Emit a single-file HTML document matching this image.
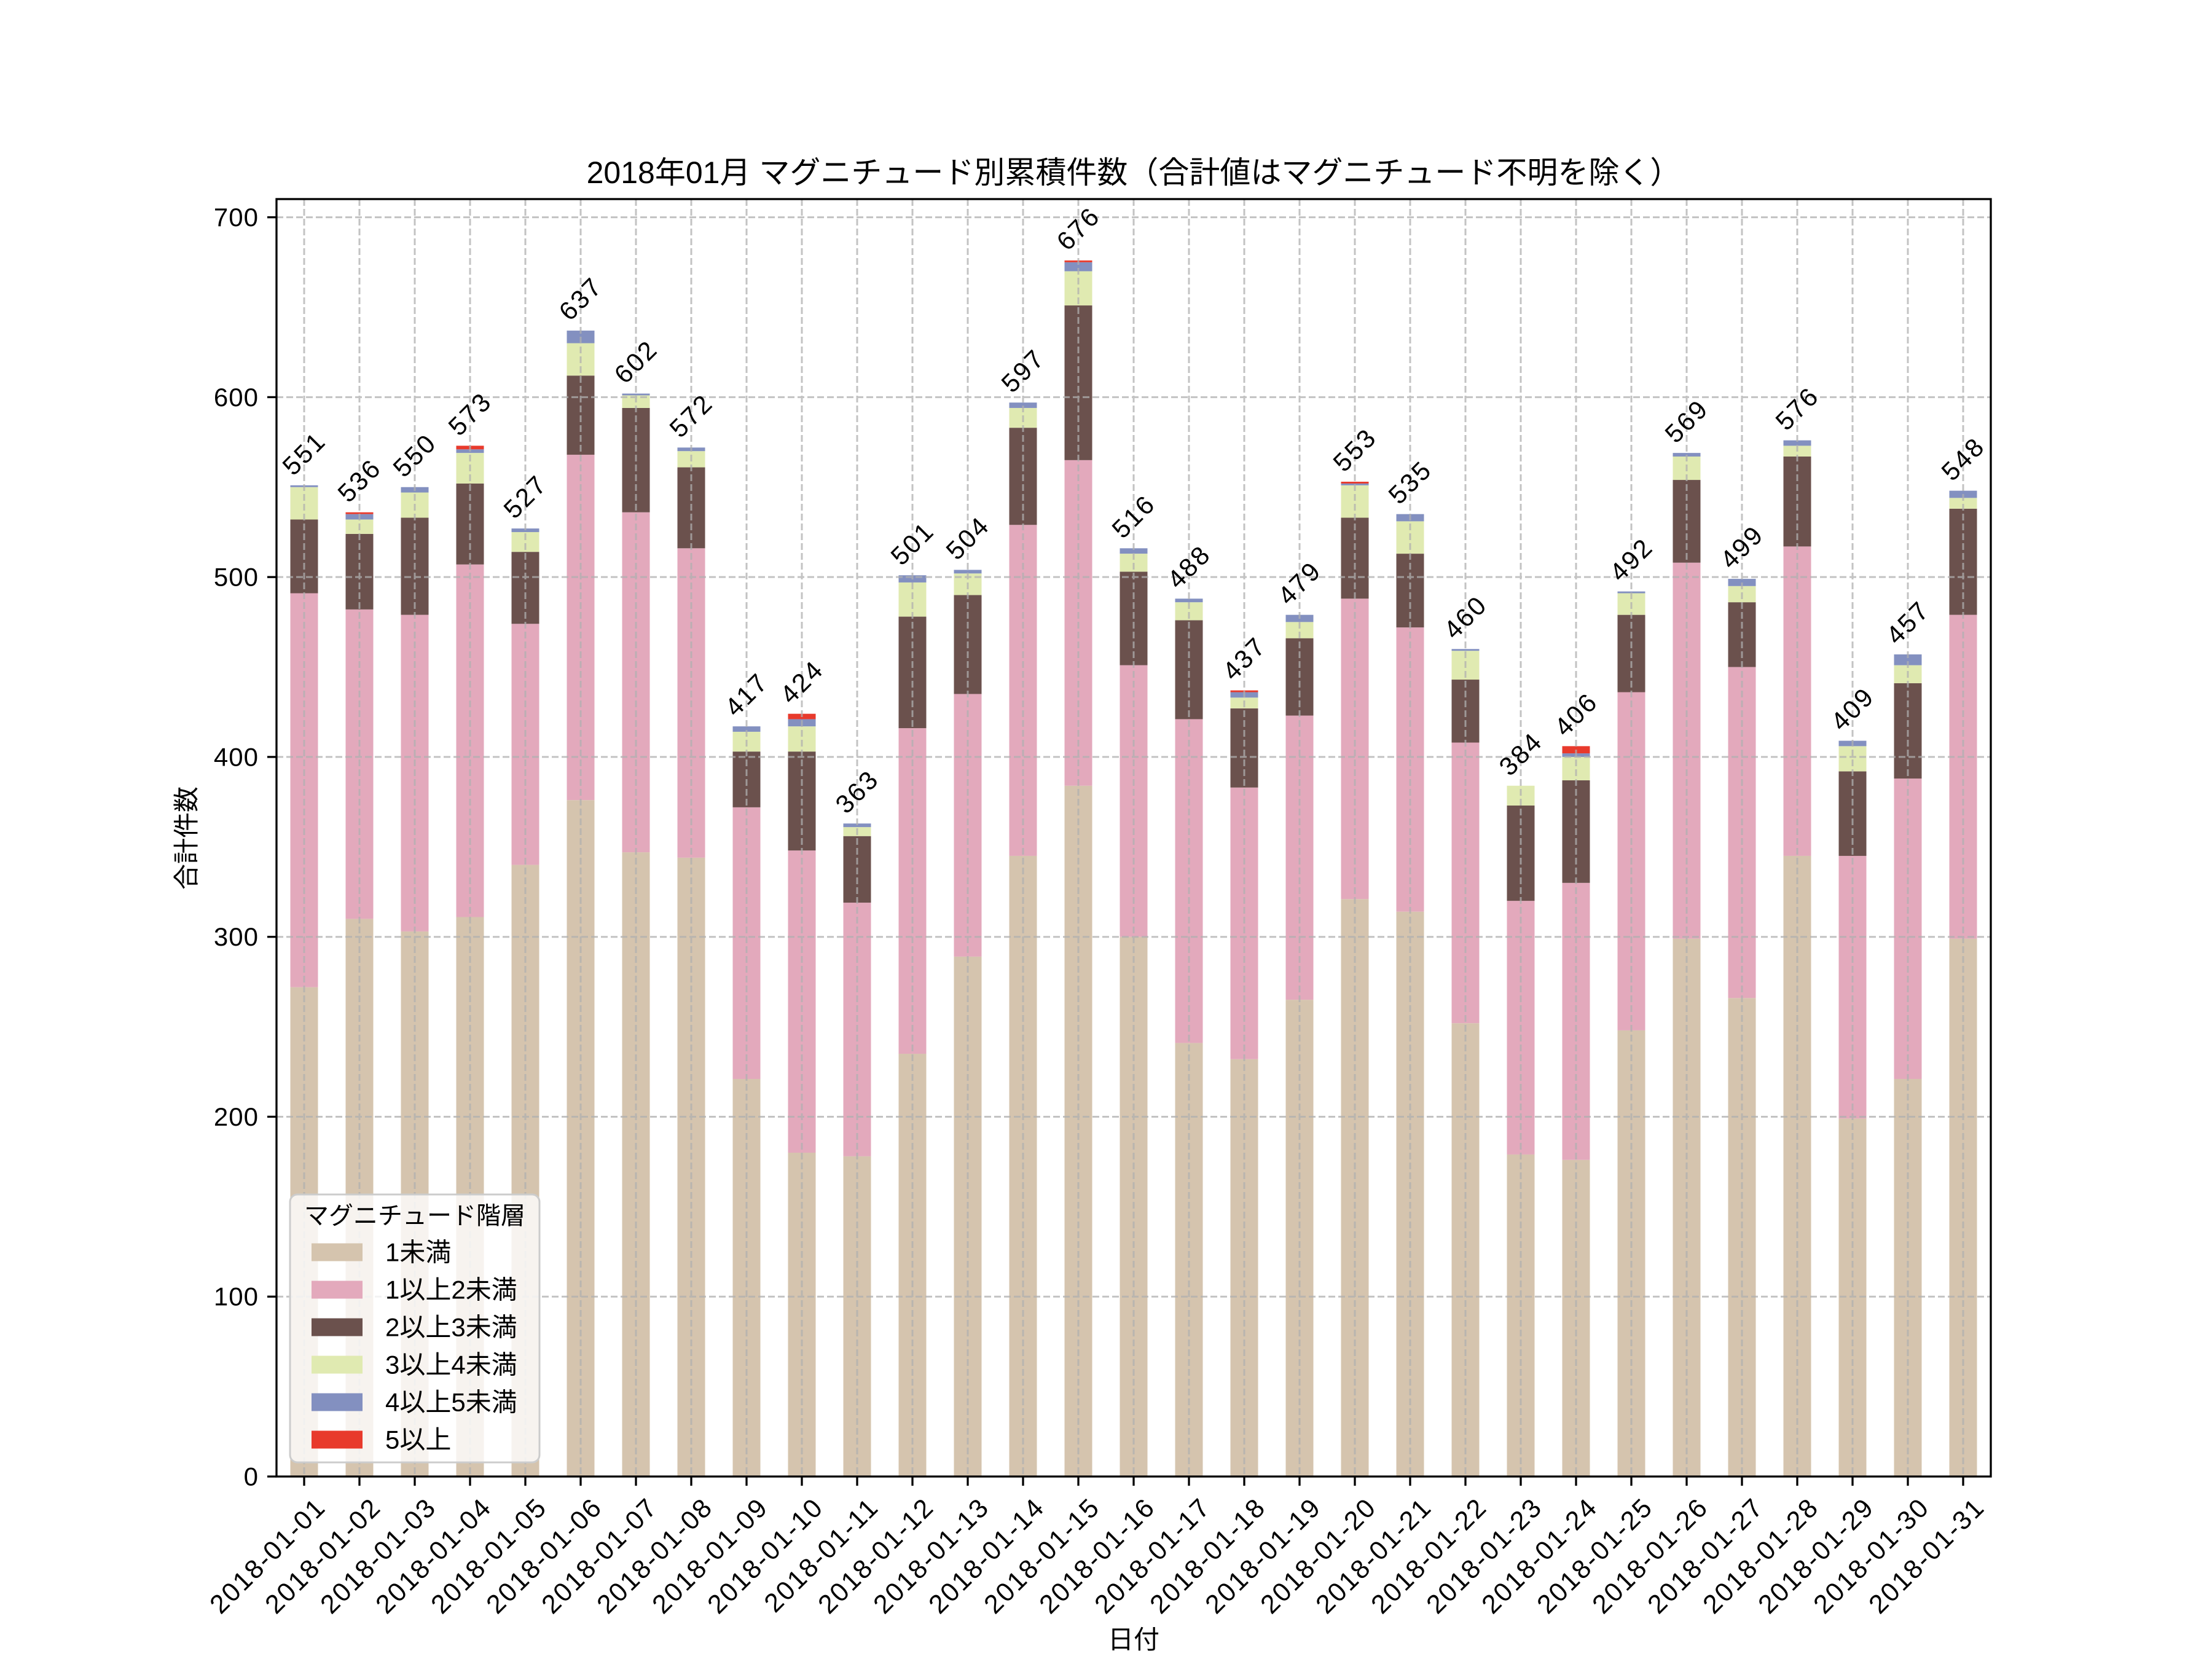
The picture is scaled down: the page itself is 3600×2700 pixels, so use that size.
<!DOCTYPE html>
<html><head><meta charset="utf-8">
<style>
html,body{margin:0;padding:0;background:#fff;}
svg{display:block;}
text{font-family:"Liberation Sans","Noto Sans CJK JP",sans-serif;fill:#000;}
</style></head>
<body>
<svg id="s" xmlns="http://www.w3.org/2000/svg" width="3600" height="2700" viewBox="0 0 3600 2700">
<rect width="3600" height="2700" fill="#fff"/>
<g id="bars"></g>
<g id="grid" stroke="#b0b0b0" stroke-width="3" stroke-dasharray="11,5" opacity="0.75"></g>
<g id="ann"></g>
<rect x="450" y="324" width="2790" height="2079" fill="none" stroke="#000" stroke-width="3.3"/>
<g id="ticks"></g>
<text x="1845" y="298" font-size="50" text-anchor="middle">2018年01月 マグニチュード別累積件数（合計値はマグニチュード不明を除く）</text>
<text x="1845" y="2683" font-size="42" text-anchor="middle">日付</text>
<text transform="translate(318,1364) rotate(-90)" font-size="42" text-anchor="middle">合計件数</text>
<g id="legend">
<rect x="472" y="1944" width="406" height="436" rx="12" fill="#fff" fill-opacity="0.8" stroke="#cccccc" stroke-width="3"/>
<text x="675" y="1979" font-size="40" text-anchor="middle" dominant-baseline="central">マグニチュード階層</text>
</g>
</svg>
<script>
var cum=[
[272,491,532,550,551,551],[310,482,524,532,535,536],[303,479,533,547,550,550],[311,507,552,569,571,573],
[340,474,514,525,527,527],[376,568,612,630,637,637],[347,536,594,601,602,602],[344,516,561,570,572,572],
[221,372,403,414,417,417],[180,348,403,417,421,424],[178,319,356,361,363,363],[235,416,478,497,501,501],
[289,435,490,502,504,504],[345,529,583,594,597,597],[384,565,651,670,675,676],[300,451,503,513,516,516],
[241,421,476,486,488,488],[232,383,427,433,436,437],[265,423,466,475,479,479],[321,488,533,551,552,553],
[314,472,513,531,535,535],[252,408,443,459,460,460],[179,320,373,384,384,384],[176,330,387,400,402,406],
[248,436,479,491,492,492],[299,508,554,567,569,569],[266,450,486,495,499,499],[345,517,567,573,576,576],
[199,345,392,406,409,409],[221,388,441,451,457,457],[299,479,538,544,548,548]];
var cols=["#d5c4ae","#e3a9bc","#6b514d","#e0eab1","#8390c0","#e83a2c"];
var names=["1未満","1以上2未満","2以上3未満","3以上4未満","4以上5未満","5以上"];
var NS="http://www.w3.org/2000/svg";
function el(p,t,a,txt){var e=document.createElementNS(NS,t);for(var k in a)e.setAttribute(k,a[k]);if(txt!==undefined)e.textContent=txt;p.appendChild(e);return e;}
function Y(v){return 2403-2.9277*v;}
var bars=document.getElementById("bars"),grid=document.getElementById("grid"),ann=document.getElementById("ann"),ticks=document.getElementById("ticks");
for(var i=0;i<31;i++){
 var cx=495+90*i,prev=0;
 for(var j=0;j<6;j++){var v=cum[i][j];if(v>prev){el(bars,"rect",{x:cx-22.5,y:Y(v),width:45,height:Y(prev)-Y(v),fill:cols[j]});}prev=Math.max(prev,v);}
 el(grid,"line",{x1:cx,y1:324,x2:cx,y2:2403});
 var t=cum[i][5],ty=Y(t)-52;
 el(ann,"text",{x:cx,y:ty,"font-size":42,"letter-spacing":3,"text-anchor":"middle","dominant-baseline":"central",transform:"rotate(-45 "+cx+" "+ty+")"},String(t));
 el(ticks,"line",{x1:cx,y1:2403,x2:cx,y2:2418,stroke:"#000","stroke-width":3.3});
 var d=(i+1<10?"0":"")+(i+1);
 el(ticks,"text",{x:cx+16,y:2434,"font-size":43,"letter-spacing":2.5,"text-anchor":"end","dominant-baseline":"hanging",transform:"rotate(-45 "+(cx+16)+" 2434)"},"2018-01-"+d);
}
for(var v=0;v<=700;v+=100){
 var y=Y(v);
 if(v>0)el(grid,"line",{x1:450,y1:y,x2:3240,y2:y});
 el(ticks,"line",{x1:435,y1:y,x2:450,y2:y,stroke:"#000","stroke-width":3.3});
 el(ticks,"text",{x:421,y:y,"font-size":42,"letter-spacing":1,"text-anchor":"end","dominant-baseline":"central"},String(v));
}
var lg=document.getElementById("legend"),ly=[2038,2099,2160,2221,2282,2343];
for(var j=0;j<6;j++){
 el(lg,"rect",{x:507,y:ly[j]-14.5,width:83,height:29,fill:cols[j]});
 el(lg,"text",{x:627,y:ly[j],"font-size":42,"dominant-baseline":"central"},names[j]);
}
</script>
</body></html>
